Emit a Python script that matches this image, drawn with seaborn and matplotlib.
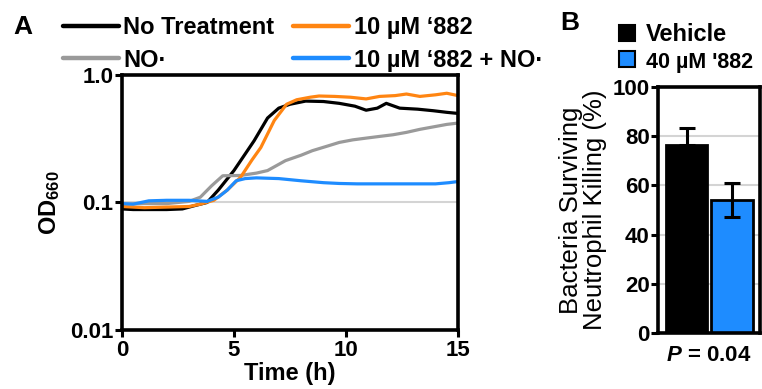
import numpy as np
import pandas as pd
import matplotlib
matplotlib.use("Agg")
import matplotlib.pyplot as plt
import seaborn as sns
from matplotlib.lines import Line2D

# ---- data ----
# panel A: growth curves (OD660 vs time, h)
t_none = [0, 0.5, 1, 2, 2.7, 3.2, 3.8, 4.3, 5.0, 5.5, 5.9, 6.5, 7.0, 7.5, 8.2, 9.0,
          9.7, 10.4, 10.9, 11.4, 11.8, 12.4, 13.2, 13.9, 14.5, 15]
od_none = [0.089, 0.088, 0.088, 0.088, 0.089, 0.094, 0.100, 0.125, 0.178, 0.24, 0.305, 0.46,
           0.55, 0.59, 0.625, 0.62, 0.60, 0.57, 0.53, 0.55, 0.60, 0.55, 0.54, 0.525, 0.51, 0.50]

t_882 = [0, 0.5, 1, 2, 3, 3.5, 4.1, 4.7, 5.3, 5.8, 6.2, 6.8, 7.35, 7.8, 8.4, 8.8, 9.5,
         10.2, 10.9, 11.5, 12.2, 12.7, 13.3, 14.0, 14.5, 15]
od_882 = [0.093, 0.092, 0.091, 0.092, 0.093, 0.097, 0.104, 0.125, 0.158, 0.215, 0.27, 0.44,
          0.59, 0.64, 0.67, 0.685, 0.68, 0.67, 0.65, 0.68, 0.69, 0.71, 0.68, 0.70, 0.72, 0.69]

t_no = [0, 1, 2, 3, 3.5, 4, 4.5, 5.3, 6, 6.5, 7.3, 8, 8.5, 9.2, 9.7, 10.3, 10.9, 11.5,
        12.1, 12.7, 13.3, 14.0, 14.5, 15]
od_no = [0.097, 0.098, 0.098, 0.102, 0.11, 0.135, 0.162, 0.163, 0.170, 0.178, 0.213, 0.235,
         0.255, 0.278, 0.296, 0.31, 0.32, 0.33, 0.34, 0.355, 0.375, 0.395, 0.41, 0.42]

t_882_no = [0, 0.5, 1.2, 2, 3, 3.8, 4.3, 4.7, 5.1, 5.5, 6, 7, 8, 9, 9.7, 10.5, 12, 13, 14, 14.6, 15]
od_882_no = [0.098, 0.097, 0.103, 0.104, 0.104, 0.102, 0.11, 0.125, 0.148, 0.154, 0.156, 0.154,
             0.148, 0.143, 0.141, 0.140, 0.140, 0.140, 0.140, 0.143, 0.146]

labels_a = ["No Treatment", "NO\u00b7", "10 \u00b5M \u2018882", "10 \u00b5M \u2018882 + NO\u00b7"]
colors_a = ["#000000", "#9a9a9a", "#ff8512", "#1e8cff"]

# panel B: neutrophil killing
groups_b = ["Vehicle", "40 \u00b5M '882"]
surv_b = [76.5, 54.0]
err_b = [7.0, 7.0]
colors_b = ["#000000", "#1e8cff"]

# ---- style ----
sns.set_style("white")
plt.rcParams["font.family"] = ["Liberation Sans", "DejaVu Sans"]
plt.rcParams["font.weight"] = "bold"
plt.rcParams["text.color"] = "black"
plt.rcParams["axes.labelcolor"] = "black"
plt.rcParams["xtick.color"] = "black"
plt.rcParams["ytick.color"] = "black"
plt.rcParams["mathtext.fontset"] = "custom"
plt.rcParams["mathtext.rm"] = "Liberation Sans:weight=bold"
plt.rcParams["mathtext.bf"] = "Liberation Sans:weight=bold"
plt.rcParams["mathtext.it"] = "Liberation Sans:weight=bold:italic"
plt.rcParams["mathtext.default"] = "bf"

fig = plt.figure(figsize=(7.62, 3.89), dpi=100)
axA = fig.add_axes([0.160, 0.152, 0.441, 0.655])
axB = fig.add_axes([0.8635, 0.144, 0.134, 0.632])

# ---- panel A ----
frames = []
for lab, tt, yy in zip(labels_a, [t_none, t_no, t_882, t_882_no], [od_none, od_no, od_882, od_882_no]):
    frames.append(pd.DataFrame({"Time": tt, "OD": yy, "cond": lab}))
dfa = pd.concat(frames, ignore_index=True)

axA.axhline(0.1, color="#d4d4d4", lw=1.5, zorder=0)
sns.lineplot(data=dfa, x="Time", y="OD", hue="cond", hue_order=labels_a,
             palette=colors_a, lw=2.3, ax=axA, legend=False, sort=False)
axA.set_yscale("log")
axA.set_ylim(0.01, 1.0)
axA.set_xlim(0, 15)
axA.set_yticks([0.01, 0.1, 1.0])
axA.set_yticklabels(["0.01", "0.1", "1.0"])
axA.minorticks_off()
axA.set_xticks([0, 5, 10, 15])
axA.set_xlabel("Time (h)", fontsize=17, fontweight="bold", labelpad=1)
axA.set_ylabel(r"$\mathbf{OD}_{\mathbf{660}}$", fontsize=17, labelpad=6)

for ax in (axA, axB):
    for sp in ax.spines.values():
        sp.set_linewidth(2.6)
        sp.set_color("black")
    ax.tick_params(axis="both", which="major", direction="out", length=5, width=2.2,
                   labelsize=16, pad=1, color="black")
    for lab in ax.get_xticklabels() + ax.get_yticklabels():
        lab.set_fontweight("bold")
axA.tick_params(axis="x", bottom=True, pad=2)
axA.tick_params(axis="y", left=True)

handles_a = [Line2D([0], [0], color=c, lw=3.2) for c in colors_a]
fig.legend(handles_a, labels_a, loc="upper left", bbox_to_anchor=(0.058, 1.008),
           ncol=2, frameon=False, handlelength=2.35, handletextpad=0.2,
           columnspacing=0.8, labelspacing=0.42, borderpad=0.3,
           prop={"size": 17, "weight": "bold"})

fig.text(0.018, 0.93, "A", fontsize=19, fontweight="bold", va="center")

# ---- panel B ----
dfb = pd.DataFrame({"group": groups_b, "surv": surv_b})
for yv in [20, 40, 60, 80]:
    axB.axhline(yv, color="#d4d4d4", lw=1.5, zorder=0)
sns.barplot(data=dfb, x="group", y="surv", hue="group", palette=colors_b, order=groups_b,
            errorbar=None, width=0.92, edgecolor="black", linewidth=2, legend=False,
            saturation=1, ax=axB, zorder=2)
axB.errorbar([0], [surv_b[0]], yerr=[[0], [err_b[0]]], fmt="none", ecolor="black",
             elinewidth=2.2, capsize=6, capthick=2.2, zorder=3)
axB.errorbar([1], [surv_b[1]], yerr=[[err_b[1]], [err_b[1]]], fmt="none", ecolor="black",
             elinewidth=2.2, capsize=6, capthick=2.2, zorder=3)
axB.set_xlim(-0.626, 1.615)
axB.set_ylim(0, 100)
axB.set_yticks([0, 20, 40, 60, 80, 100])
axB.set_xticks([])
axB.set_xlabel("")
axB.set_ylabel("Bacteria Surviving\nNeutrophil Killing (%)", fontsize=18.5,
               fontweight="normal", linespacing=1.0, labelpad=4)
axB.tick_params(axis="y", left=True)
axB.text(0.5, -0.05, r"$\mathit{P}$ = 0.04", transform=axB.transAxes, ha="center",
         va="top", fontsize=16, fontweight="bold")

handles_b = [Line2D([0], [0], marker="s", ls="none", markersize=12,
                    markerfacecolor=c, markeredgecolor="black", markeredgewidth=1.5)
             for c in colors_b]
legB = fig.legend(handles_b, groups_b, loc="upper left", bbox_to_anchor=(0.786, 0.99),
                  frameon=False, handlelength=0.8, handletextpad=0.4, labelspacing=0.23,
                  borderpad=0.3, prop={"size": 17, "weight": "bold"})
legB.get_texts()[1].set_fontsize(15.5)
fig.text(0.735, 0.941, "B", fontsize=19, fontweight="bold", va="center")

fig.savefig("out.png", dpi=100)
